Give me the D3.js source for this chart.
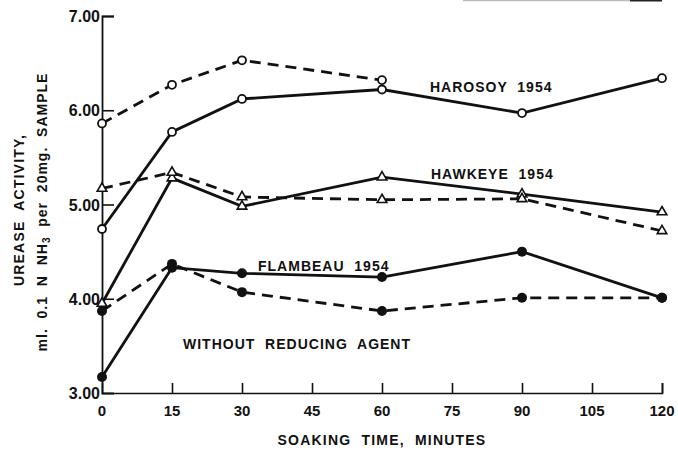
<!DOCTYPE html>
<html>
<head>
<meta charset="utf-8">
<script src="https://cdn.jsdelivr.net/npm/d3@7"></script>
<style>
  body { margin: 0; background: #fff; }
  text { font-family: "Liberation Sans", Arial, sans-serif; font-weight: bold; fill: #111; white-space: pre; }
</style>
</head>
<body>
<script>
// soaking times (minutes)
const times = [0, 15, 30, 60, 90, 120];

// urease activity, ml 0.1 N NH3 per 20 mg sample
const harosoySolid  = [4.74, 5.77, 6.12, 6.22, 5.97, 6.34];
const harosoyDashed = [5.86, 6.27, 6.53, 6.32];
const hawkeyeSolid  = [3.95, 5.28, 4.98, 5.29, 5.11, 4.92];
const hawkeyeDashed = [5.17, 5.34, 5.08, 5.05, 5.06, 4.72];
const flambeauSolid  = [3.17, 4.33, 4.27, 4.23, 4.50, 4.01];
const flambeauDashed = [3.87, 4.37, 4.07, 3.87, 4.01, 4.01];

const xTicks = [0, 15, 30, 45, 60, 75, 90, 105, 120];
const yTicks = [3, 4, 5, 6, 7];

const series = [
  { vals: harosoySolid,  dash: null,  marker: "circle" },
  { vals: harosoyDashed, dash: "11,7", marker: "circle" },
  { vals: hawkeyeSolid,  dash: null,  marker: "triangle" },
  { vals: hawkeyeDashed, dash: "11,7", marker: "triangle" },
  { vals: flambeauSolid,  dash: null,  marker: "dot" },
  { vals: flambeauDashed, dash: "11,7", marker: "dot" }
];

const width = 678, height = 451;
const svg = d3.select("body").append("svg")
  .attr("width", width).attr("height", height);

const x = d3.scaleLinear().domain([0, 120]).range([102, 662]);
const y = d3.scaleLinear().domain([3, 7]).range([393, 16]);

// scan artifact along top edge
svg.append("line").attr("x1", 463).attr("x2", 630).attr("y1", 0.5).attr("y2", 0.5)
  .attr("stroke", "#bbb").attr("stroke-width", 1.5);
svg.append("line").attr("x1", 630).attr("x2", 662).attr("y1", 0.5).attr("y2", 0.5)
  .attr("stroke", "#222").attr("stroke-width", 2);

// axes
const xAxis = d3.axisTop(x).tickValues(xTicks.slice(1)).tickSize(10).tickFormat("");
svg.append("g").attr("transform", "translate(0,393)").call(xAxis)
  .call(g => g.select(".domain").attr("stroke", "#111").attr("stroke-width", 1.6))
  .call(g => g.selectAll(".tick line").attr("stroke", "#111").attr("stroke-width", 1.6));

const yAxis = d3.axisRight(y).tickValues(yTicks.slice(1)).tickSize(12).tickFormat("");
svg.append("g").attr("transform", "translate(102,0)").call(yAxis)
  .call(g => g.select(".domain").attr("stroke", "#111").attr("stroke-width", 1.8))
  .call(g => g.selectAll(".tick line").attr("stroke", "#111").attr("stroke-width", 1.6));

// tick labels
svg.selectAll(".xl").data(xTicks).enter().append("text")
  .attr("x", d => x(d)).attr("y", 416)
  .attr("text-anchor", "middle").style("font-size", "15px")
  .text(d => d);

svg.selectAll(".yl").data(yTicks).enter().append("text")
  .attr("x", 100).attr("y", d => y(d) + 6)
  .attr("text-anchor", "end").style("font-size", "16px")
  .text(d => d.toFixed(2));

// axis titles
svg.append("text").attr("x", 382).attr("y", 445)
  .attr("text-anchor", "middle").style("font-size", "14px").style("letter-spacing", "1.2px")
  .text("SOAKING  TIME,  MINUTES");

svg.append("text").attr("transform", "translate(24,210) rotate(-90)")
  .attr("text-anchor", "middle").style("font-size", "14px").style("letter-spacing", "1.2px")
  .text("UREASE  ACTIVITY,");

const yt2 = svg.append("text").attr("transform", "translate(47,212) rotate(-90)")
  .attr("text-anchor", "middle").style("font-size", "14px").style("letter-spacing", "1px");
yt2.append("tspan").text("ml.  0.1  N  NH");
yt2.append("tspan").attr("baseline-shift", "-30%").style("font-size", "10px").text("3");
yt2.append("tspan").text("  per  20mg.  SAMPLE");

// lines and markers
const line = d3.line().x(d => x(d[0])).y(d => y(d[1]));

series.forEach(s => {
  const pts = s.vals.map((v, i) => [times[i], v]);
  svg.append("path").datum(pts)
    .attr("d", line).attr("fill", "none")
    .attr("stroke", "#111").attr("stroke-width", 2.8)
    .attr("stroke-dasharray", s.dash);

  const m = svg.selectAll(null).data(pts).enter();
  if (s.marker === "circle") {
    m.append("circle").attr("cx", d => x(d[0])).attr("cy", d => y(d[1])).attr("r", 4)
      .attr("fill", "#fff").attr("stroke", "#111").attr("stroke-width", 1.8);
  } else if (s.marker === "dot") {
    m.append("circle").attr("cx", d => x(d[0])).attr("cy", d => y(d[1])).attr("r", 5)
      .attr("fill", "#111");
  } else {
    m.append("path")
      .attr("d", d3.symbol().type(d3.symbolTriangle).size(40))
      .attr("transform", d => `translate(${x(d[0])},${y(d[1])})`)
      .attr("fill", "#fff").attr("stroke", "#111").attr("stroke-width", 1.6);
  }
});

// series labels
const labels = [
  { t: "HAROSOY  1954", x: 430, y: 92 },
  { t: "HAWKEYE  1954", x: 431, y: 179 },
  { t: "FLAMBEAU  1954", x: 258, y: 271 },
  { t: "WITHOUT  REDUCING  AGENT", x: 183, y: 349 }
];
svg.selectAll(".lab").data(labels).enter().append("text")
  .attr("x", d => d.x).attr("y", d => d.y)
  .style("font-size", "14px").style("letter-spacing", "1px")
  .text(d => d.t);
</script>
</body>
</html>
